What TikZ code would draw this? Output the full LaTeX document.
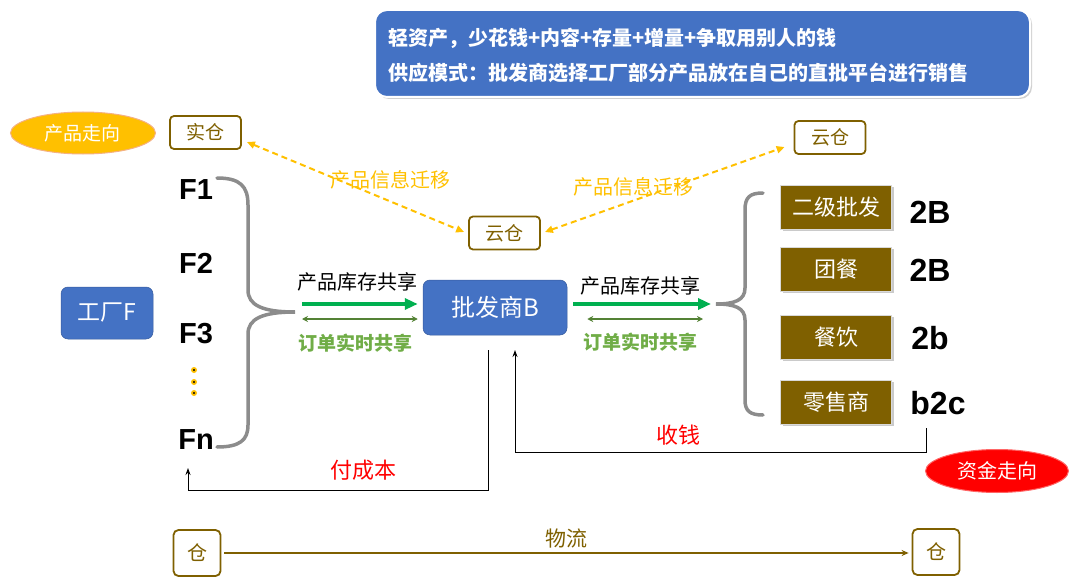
\documentclass[tikz,border=0pt]{standalone}
\usepackage{fontspec}
\setmainfont{Noto Sans CJK SC}
\newfontfamily\arialf{Liberation Sans}
\usetikzlibrary{arrows.meta,shadows,shapes.geometric}
\definecolor{myblue}{HTML}{4472C4}
\definecolor{myorange}{HTML}{FFC000}
\definecolor{mybrown}{HTML}{7F6000}
\definecolor{mygreen}{HTML}{00B050}
\definecolor{mydkgreen}{HTML}{548235}
\definecolor{mylgreen}{HTML}{70AD47}
\definecolor{myred}{HTML}{FF0000}
\definecolor{mygray}{HTML}{8C8C8C}
\definecolor{mypink}{HTML}{F4B183}
\newcommand\myfs[1]{\fontsize{#1}{#1}\selectfont}
\begin{document}
\begin{tikzpicture}[x=1pt,y=-1pt,
  banner/.style={fill=myblue,draw=white,line width=2,rounded corners=12,
    drop shadow={shadow xshift=2pt,shadow yshift=-2pt,fill=black!30,opacity=.6}},
  bannertext/.style={anchor=west,inner sep=0,text=white,font=\myfs{20}\bfseries},
  cangbox/.style={draw=mybrown,line width=1.8,rounded corners=4,fill=white,text=mybrown,
    minimum width=71,minimum height=33,inner sep=0,font=\myfs{19}},
  smallcang/.style={draw=mybrown,line width=1.8,rounded corners=5,fill=white,text=mybrown,
    minimum width=47,minimum height=46,inner sep=0,font=\myfs{20}},
  bluebox/.style={fill=myblue,draw=myblue!80!black,line width=0.5,rounded corners=7,text=white,inner sep=0},
  brownbox/.style={fill=mybrown,draw=white!85!black,line width=1,text=white,
    minimum width=111,minimum height=44,inner sep=0,font=\myfs{22},
    drop shadow={shadow xshift=2pt,shadow yshift=-2pt,fill=black!35,opacity=.6}},
  fnode/.style={inner sep=0,font=\arialf\bfseries\myfs{29}},
  bnode/.style={inner sep=0,font=\arialf\bfseries\myfs{32}},
  infoarrow/.style={draw=myorange,dashed,dash pattern=on 6pt off 4pt,line width=2,
    {Triangle[length=8pt,width=7pt]}-{Triangle[length=8pt,width=7pt]}},
  infolabel/.style={text=myorange,inner sep=0,font=\myfs{20}},
  stockarrow/.style={draw=mygreen,line width=3.5,-{Triangle[length=13pt,width=11pt]}},
  orderarrow/.style={draw=mydkgreen,line width=1.5,{Stealth[length=6pt,width=6pt]}-{Stealth[length=6pt,width=6pt]}},
  stocklabel/.style={inner sep=0,font=\myfs{20}},
  orderlabel/.style={inner sep=0,text=mylgreen,font=\myfs{19}\bfseries},
  brace/.style={draw=mygray,line width=3.5,line cap=round},
  money/.style={draw=black,line width=1,-{Stealth[length=7pt,width=5pt]}},
  moneylabel/.style={inner sep=0,text=myred,font=\myfs{22}},
  logi/.style={draw=mybrown,line width=1.5,-{Stealth[length=7pt,width=6pt]}},
  dot/.style={circle,fill=myorange,inner sep=0,minimum size=6}
]
\useasboundingbox (0,0) rectangle (1080,578);

% banner
\node[banner,minimum width=655,minimum height=87] (banner) at (702.5,53.5) {};
\node[bannertext] (line1) at (388,38) {轻资产，少花钱+内容+存量+增量+争取用别人的钱};
\node[bannertext] (line2) at (388,73) {供应模式：批发商选择工厂部分产品放在自己的直批平台进行销售};

% product direction ellipse
\node[ellipse,fill=myorange,draw=mypink,line width=1,minimum width=145,minimum height=42,inner sep=0,
  text=white,font=\myfs{19}] (pdir) at (83,133) {产品走向};

% warehouses
\node[cangbox] (shicang) at (205.5,132.5) {实仓};
\node[cangbox] (yunR) at (830,137.5) {云仓};
\node[cangbox] (yunM) at (504.5,233) {云仓};

% info migration arrows
\draw[infoarrow] ([shift={(5,9.5)}]shicang.east) -- ([shift={(-4,-1)}]yunM.west);
\draw[infoarrow] ([shift={(4,-1)}]yunM.east) -- ([shift={(-9,9.5)}]yunR.west);
\node[infolabel] (infoL) at (390,180) {产品信息迁移};
\node[infolabel] (infoR) at (633,187) {产品信息迁移};

% factories
\node[fnode] (f1) at (196,190) {F1};
\node[fnode] (f2) at (196,263) {F2};
\node[fnode] (f3) at (196,334) {F3};
\node[fnode] (fn) at (196,440) {Fn};
\node[dot] (d1) at (194,370) {};
\node[dot] (d2) at (194,382) {};
\node[dot] (d3) at (194,393) {};
\fill (d1) circle (1.2); \fill (d2) circle (1.2); \fill (d3) circle (1.2);

% left brace
\draw[brace] (217,178) .. controls (240,178) and (248,186) .. (248,205) -- (248,290)
  .. controls (248,305) and (262,312) .. (295,312)
  .. controls (262,312) and (248,319) .. (248,334) -- (248,425)
  .. controls (248,440) and (240,447) .. (217,447);

% factory box
\node[bluebox,minimum width=92,minimum height=52,font=\myfs{23}] (factory) at (107,313) {工厂F};

% wholesaler
\node[bluebox,minimum width=144,minimum height=55,font=\myfs{24}] (pf) at (495,307.5) {批发商B};

% left arrows
\coordinate (la1) at (302,304);
\coordinate (la2) at (302,319);
\draw[stockarrow] (la1) -- ([shift={(-5,-3.5)}]pf.west);
\draw[orderarrow] (la2) -- ([shift={(-5,11.5)}]pf.west);
\node[stocklabel] (stockL) at (357,282) {产品库存共享};
\node[orderlabel] (orderL) at (355,343) {订单实时共享};

% right arrows
\coordinate (ra1) at (711,304);
\coordinate (ra2) at (703,319);
\draw[stockarrow] ([shift={(6,-3.5)}]pf.east) -- (ra1);
\draw[orderarrow] ([shift={(20,11.5)}]pf.east) -- (ra2);
\node[stocklabel] (stockR) at (640,286) {产品库存共享};
\node[orderlabel] (orderR) at (640,342) {订单实时共享};

% right brace
\draw[brace] (763,193) .. controls (750,193) and (745,197) .. (745,210) -- (745,288)
  .. controls (745,300) and (735,304) .. (716,304)
  .. controls (735,304) and (745,308) .. (745,320) -- (745,400)
  .. controls (745,411) and (750,415) .. (763,415);

% customers
\node[brownbox] (c1) at (836,207) {二级批发};
\node[brownbox] (c2) at (836,269) {团餐};
\node[brownbox] (c3) at (836,337) {餐饮};
\node[brownbox] (c4) at (836,402) {零售商};
\node[bnode] (t1) at (930,212) {2B};
\node[bnode] (t2) at (930,270) {2B};
\node[bnode] (t3) at (930,338) {2b};
\node[bnode] (t4) at (938,403) {b2c};

% money flows
\coordinate (pay0) at (488,350);
\coordinate (pay1) at (188,468);
\draw[money] (pay0) -- (488,490) -| (pay1);
\node[moneylabel] (payL) at (363,470) {付成本};
\coordinate (rec0) at (926,428);
\coordinate (rec1) at (515,350);
\draw[money] (rec0) -- (926,452) -| (rec1);
\node[moneylabel] (recL) at (678,435) {收钱};

\node[ellipse,fill=myred,draw=myred!60,line width=1,minimum width=143,minimum height=43,inner sep=0,
  text=white,font=\myfs{20}] (mdir) at (997,471) {资金走向};

% logistics
\node[smallcang] (cl) at (197,553) {仓};
\node[smallcang] (cr) at (936,552) {仓};
\draw[logi] ([xshift=3]cl.east) -- ([xshift=-3]cr.west |- cl.east);
\node[inner sep=0,text=mybrown,font=\myfs{21}] (wl) at (566,539) {物流};
\end{tikzpicture}
\end{document}
